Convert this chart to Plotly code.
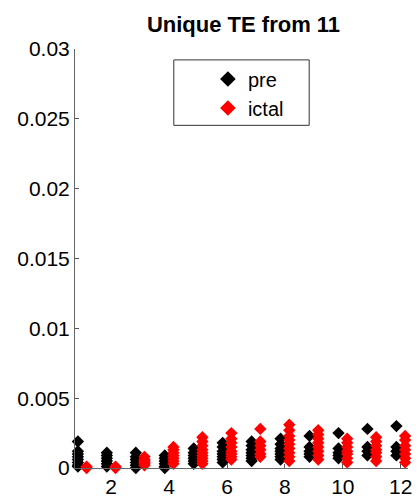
import plotly.graph_objects as go

groups = list(range(1, 13))
pre_values = [
    [0.0019, 0.0012, 0.0010, 0.0008, 0.0006, 0.0004, 0.0002, 0.0001],
    [0.0011, 0.0009, 0.0007, 0.0005, 0.0003, 0.0001],
    [0.0011, 0.0008, 0.0006, 0.0004, 0.0002, 0.0000],
    [0.0009, 0.0007, 0.0005, 0.0003, 0.0001, 0.0000],
    [0.0014, 0.0011, 0.0009, 0.0007, 0.0005, 0.0003],
    [0.0018, 0.0015, 0.0012, 0.0010, 0.0008, 0.0006, 0.0004],
    [0.0019, 0.0016, 0.0013, 0.0011, 0.0009, 0.0007, 0.0005],
    [0.0021, 0.0017, 0.0014, 0.0012, 0.0010, 0.0008, 0.0006],
    [0.0023, 0.0015, 0.0012, 0.0010, 0.0008],
    [0.0025, 0.0014, 0.0011, 0.0009, 0.0007],
    [0.0028, 0.0015, 0.0012, 0.0009],
    [0.0030, 0.0015, 0.0012, 0.0009],
]
ictal_values = [
    [0.0001, 0.0000],
    [0.0001, 0.0000],
    [0.0008, 0.0006, 0.0005, 0.0004, 0.0003, 0.0002],
    [0.0015, 0.0013, 0.0011, 0.0009, 0.0007, 0.0005, 0.0003],
    [0.0022, 0.0019, 0.0016, 0.0013, 0.0011, 0.0009, 0.0007, 0.0005, 0.0003],
    [0.0025, 0.0021, 0.0018, 0.0015, 0.0012, 0.0010, 0.0008, 0.0006],
    [0.0028, 0.0019, 0.0016, 0.0013, 0.0010, 0.0008],
    [0.0031, 0.0027, 0.0023, 0.0020, 0.0017, 0.0014, 0.0011, 0.0008, 0.0005],
    [0.0027, 0.0024, 0.0021, 0.0018, 0.0015, 0.0012, 0.0009, 0.0006],
    [0.0021, 0.0018, 0.0015, 0.0012, 0.0010, 0.0007, 0.0004],
    [0.0022, 0.0019, 0.0016, 0.0013, 0.0011, 0.0008, 0.0005],
    [0.0023, 0.0020, 0.0016, 0.0013, 0.0010, 0.0007, 0.0004],
]
series_names = ["pre", "ictal"]
x_ticks = [2, 4, 6, 8, 10, 12]
y_ticks = [0, 0.005, 0.01, 0.015, 0.02, 0.025, 0.03]
y_tick_labels = ["0", "0.005", "0.01", "0.015", "0.02", "0.025", "0.03"]

FONT = "Liberation Sans, Arial, sans-serif"
colors = ["black", "red"]
offsets = [-0.15, 0.15]

fig = go.Figure()
for name, vals, col, off in zip(series_names, [pre_values, ictal_values], colors, offsets):
    xs, ys = [], []
    for g, v in zip(groups, vals):
        xs += [g + off] * len(v)
        ys += v
    fig.add_trace(go.Scatter(
        x=xs, y=ys, mode="markers", name=name,
        marker=dict(symbol="diamond", size=9.5, color=col, line=dict(width=0)),
        cliponaxis=False,
    ))

# legend frame (MATLAB-style box)
fig.add_shape(type="rect", xref="paper", yref="paper",
              x0=0.2967, x1=0.7033, y0=0.8178, y1=0.974,
              line=dict(color="#333333", width=1), fillcolor="white", layer="below")

fig.update_layout(
    width=417, height=503,
    margin=dict(l=75, r=5, t=49, b=31.5),
    paper_bgcolor="white", plot_bgcolor="white",
    font=dict(family=FONT, size=21, color="black"),
    title=dict(text="<b>Unique TE from 11</b>", x=(75 + 412) / 2 / 417, xanchor="center",
               y=1 - 24 / 503, yanchor="middle", font=dict(size=22, family=FONT)),
    showlegend=True,
    legend=dict(x=0.297, y=0.975, xanchor="left", yanchor="top",
                borderwidth=0, bgcolor="rgba(0,0,0,0)",
                font=dict(size=20, family=FONT), indentation=34,
                tracegroupgap=0, itemsizing="constant"),
    xaxis=dict(range=[0.75, 12.25], tickvals=x_ticks, ticks="inside", ticklen=4,
               tickcolor="#555555", showline=True, linecolor="#666666", linewidth=1,
               showgrid=False, zeroline=False, tickfont=dict(size=21)),
    yaxis=dict(range=[0, 0.03], tickvals=y_ticks, ticktext=y_tick_labels,
               ticks="inside", ticklen=4, tickcolor="#555555",
               showline=True, linecolor="#666666", linewidth=1,
               showgrid=False, zeroline=False, tickfont=dict(size=21)),
)

fig.write_html("out.html")
